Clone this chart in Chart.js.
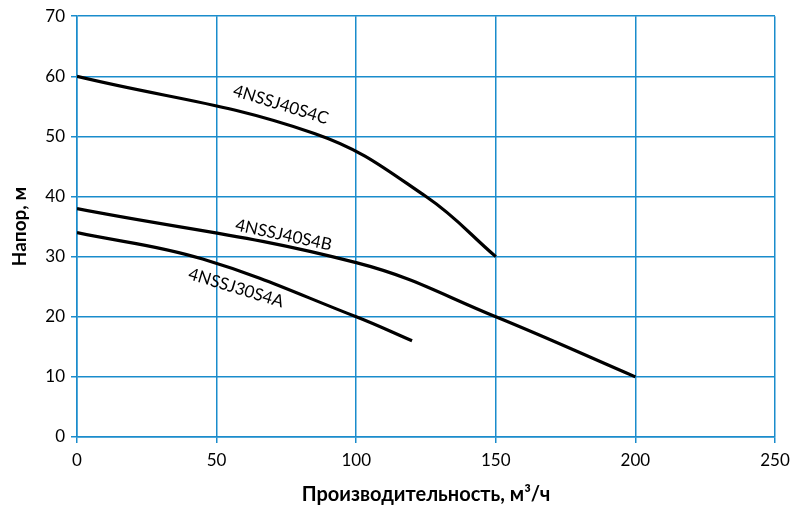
<!DOCTYPE html>
<html><head><meta charset="utf-8">
<script src="https://cdn.jsdelivr.net/npm/chart.js@4.4.0/dist/chart.umd.min.js"></script>
<style>html,body{margin:0;padding:0;background:#fff}#w{width:800px;height:511px}</style>
</head><body><div id="w"><canvas id="c"></canvas></div>
<script>
const xTicks = [0, 50, 100, 150, 200, 250];
const yTicks = [0, 10, 20, 30, 40, 50, 60, 70];
const seriesNames = ['4NSSJ40S4C', '4NSSJ40S4B', '4NSSJ30S4A'];
const flowC = [0, 85, 125, 150];
const headC = [60, 50.5, 40, 30];
const flowB = [0, 100, 150, 200];
const headB = [38, 29, 20, 10];
const flowA = [0, 45, 100, 120];
const headA = [34, 29.6, 20, 16];

const pts = (xs, ys) => xs.map((x, i) => ({x: x, y: ys[i]}));
const FONT = 'Lato, "Open Sans", sans-serif';

const labelPlugin = {
  id: 'curveLabels',
  afterDatasetsDraw(chart) {
    const ctx = chart.ctx, xs = chart.scales.x, ys = chart.scales.y;
    const spots = [
      {t: seriesNames[0], x: 73, y: 55.3, a: 17},
      {t: seriesNames[1], x: 74, y: 33.6, a: 12},
      {t: seriesNames[2], x: 57, y: 24.8, a: 17}
    ];
    ctx.save();
    ctx.fillStyle = '#000';
    ctx.font = '17px ' + FONT;
    ctx.textAlign = 'center';
    ctx.textBaseline = 'middle';
    spots.forEach(s => {
      ctx.save();
      ctx.translate(xs.getPixelForValue(s.x), ys.getPixelForValue(s.y));
      ctx.rotate(s.a * Math.PI / 180);
      ctx.fillText(s.t, 0, 0);
      ctx.restore();
    });
    ctx.restore();
  }
};

const mk = (name, data) => ({label: name, data: data, borderColor: '#000', borderWidth: 3.2,
  pointRadius: 0, fill: false, tension: 0.4});

new Chart(document.getElementById('c'), {
  type: 'line',
  data: {datasets: [
    mk(seriesNames[0], pts(flowC, headC)),
    mk(seriesNames[1], pts(flowB, headB)),
    mk(seriesNames[2], pts(flowA, headA))
  ]},
  options: {
    responsive: true, maintainAspectRatio: false, animation: false,
    layout: {padding: {top: 15, right: 25, left: 4, bottom: 0}},
    plugins: {legend: {display: false}, tooltip: {enabled: false}},
    scales: {
      x: {type: 'linear', min: 0, max: 250,
        afterBuildTicks: s => { s.ticks = xTicks.map(v => ({value: v})); },
        afterFit: s => { s.height = 74; },
        grid: {color: '#1a8ccc', lineWidth: 1.5, tickLength: 6, drawTicks: true},
        border: {color: '#1a8ccc', width: 1.5},
        ticks: {color: '#000', font: {size: 17, family: FONT}, padding: 7},
        title: {display: true, text: 'Производительность, м³/ч', color: '#000',
          font: {size: 20, weight: 'bold', family: FONT}, padding: {top: 2}}
      },
      y: {type: 'linear', min: 0, max: 70,
        afterBuildTicks: s => { s.ticks = yTicks.map(v => ({value: v})); },
        afterFit: s => { s.width = 73; },
        grid: {color: '#1a8ccc', lineWidth: 1.5, tickLength: 6},
        border: {color: '#1a8ccc', width: 1.5},
        ticks: {color: '#000', font: {size: 17, family: FONT}, padding: 6},
        title: {display: true, text: 'Напор, м', color: '#000',
          font: {size: 19, weight: 'bold', family: FONT}, padding: {bottom: 4}}
      }
    }
  },
  plugins: [labelPlugin]
});
</script></body></html>
